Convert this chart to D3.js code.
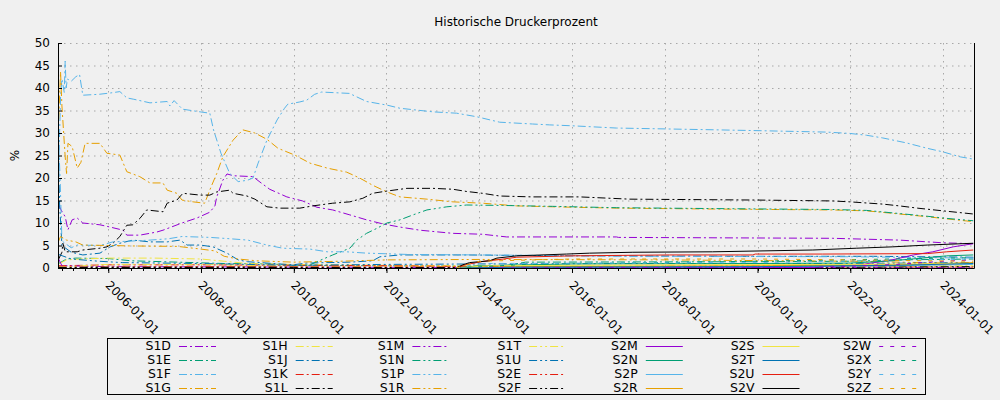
<!DOCTYPE html>
<html>
<head>
<meta charset="utf-8">
<script src="https://cdn.jsdelivr.net/npm/d3@7"></script>
<style>
    body { margin: 0; background: #f0f0f0; }
    svg { display: block; font-family: 'DejaVu Sans', sans-serif; }
</style>
</head>
<body>
<div id="chart"></div>
<script>
// values: [decimal year, percent]
const s1d = [[2004.93, 14], [2004.98, 12.9], [2005.07, 11.4], [2005.13, 8.5], [2005.22, 10.7], [2005.33, 11.1], [2005.45, 10], [2005.82, 9.6], [2006.04, 9.1], [2006.32, 8.4], [2006.4, 7.3], [2006.68, 7.3], [2007.05, 8], [2007.18, 8.4], [2007.59, 10], [2007.91, 11.1], [2008.19, 12.4], [2008.3, 13.8], [2008.34, 15.8], [2008.47, 19.5], [2008.56, 20.9], [2008.7, 20.5], [2009.12, 20.3], [2009.27, 19.1], [2009.48, 17.5], [2009.85, 15.8], [2010.19, 14.9], [2010.5, 13.5], [2010.84, 12.9], [2011.21, 11.8], [2011.57, 10.7], [2011.92, 9.8], [2012.29, 9.1], [2012.72, 8.4], [2013.43, 7.7], [2014.07, 7.5], [2014.59, 6.9], [2016.96, 6.9], [2017.0, 6.8], [2021.62, 6.6], [2023.06, 6.2], [2024.0, 5.6], [2024.65, 5.4]];
const s1e = [[2004.93, 1], [2005.1, 2.0], [2005.3, 2.2], [2006.0, 2.1], [2006.5, 1.6], [2007.5, 1.3], [2008.5, 1.0], [2009.5, 0.9], [2010.0, 0.6], [2012.0, 0.5], [2014.5, 0.4], [2015.0, 1.3], [2020.0, 1.4], [2022.0, 1.5], [2023.0, 1.8], [2024.65, 2.0]];
const s1f = [[2004.93, 22], [2004.95, 30], [2004.97, 38], [2005.0, 42], [2005.05, 39], [2005.07, 46], [2005.09, 40], [2005.12, 42], [2005.2, 41.5], [2005.3, 42.5], [2005.38, 43], [2005.45, 38.4], [2005.8, 38.6], [2006.05, 38.9], [2006.25, 39.2], [2006.4, 37.8], [2006.55, 37.5], [2006.9, 36.7], [2007.27, 37], [2007.33, 36], [2007.42, 37.2], [2007.6, 35.3], [2007.98, 34.7], [2008.19, 34.4], [2008.27, 30.7], [2008.43, 25.5], [2008.62, 21], [2008.8, 19.2], [2009.0, 19.5], [2009.12, 20], [2009.23, 23.3], [2009.42, 28.4], [2009.64, 32.9], [2009.8, 35.5], [2009.87, 36.4], [2010.13, 36.9], [2010.28, 37.3], [2010.45, 38.6], [2010.6, 39.1], [2011.2, 38.8], [2011.57, 37], [2012.01, 36.2], [2012.29, 35.5], [2013.0, 34.7], [2013.51, 34.4], [2013.95, 33.6], [2014.44, 32.4], [2015.15, 32.0], [2015.52, 31.8], [2016.01, 31.6], [2016.96, 31.1], [2018.04, 30.9], [2019.12, 30.7], [2020.11, 30.5], [2021.49, 30.2], [2021.99, 29.9], [2022.35, 29.5], [2022.7, 28.9], [2023.21, 27.8], [2023.66, 26.6], [2024.0, 25.8], [2024.37, 24.7], [2024.65, 24.2]];
const s1g = [[2004.93, 33], [2004.97, 43.6], [2005.0, 36], [2005.07, 24.7], [2005.1, 21], [2005.13, 27.7], [2005.22, 27], [2005.33, 22.2], [2005.41, 23.5], [2005.5, 27.7], [2005.82, 27.7], [2005.97, 25.5], [2006.25, 25.1], [2006.4, 21.4], [2006.68, 20.3], [2006.9, 18.9], [2007.18, 18.9], [2007.27, 17.3], [2007.48, 16.6], [2007.59, 15.1], [2007.83, 14.7], [2008.08, 14.4], [2008.22, 18.1], [2008.34, 21], [2008.47, 24.7], [2008.69, 28.4], [2008.9, 30.7], [2009.16, 30], [2009.42, 28.6], [2009.66, 26.6], [2010.02, 25.1], [2010.35, 23.3], [2010.72, 22.2], [2011.14, 21.3], [2011.42, 20], [2011.7, 18.4], [2012.01, 16.9], [2012.29, 15.8], [2012.87, 15.3], [2013.43, 14.7], [2014.07, 14.4], [2014.81, 13.8], [2015.58, 13.6], [2016.96, 13.3], [2019.12, 13.1], [2021.62, 12.9], [2022.35, 12.7], [2023.06, 12.0], [2023.66, 11.4], [2024.0, 11.0], [2024.65, 10.3]];
const s1h = [[2004.95, 1], [2005.1, 1.8], [2005.4, 2.0], [2006.0, 2.2], [2007.0, 2.2], [2008.0, 2.0], [2008.5, 1.5], [2009.0, 1.0], [2010.0, 0.8], [2012.0, 0.6], [2014.0, 0.5], [2018.0, 0.5], [2022.0, 0.5], [2024.65, 0.5]];
const s1j = [[2004.93, 22], [2004.95, 14], [2005.0, 5], [2005.2, 3.5], [2005.45, 2.9], [2005.82, 3.3], [2006.04, 4.7], [2006.25, 5.5], [2006.53, 6.2], [2006.9, 5.8], [2007.27, 5.8], [2007.55, 6.2], [2007.7, 5.1], [2007.98, 5.1], [2008.26, 4.7], [2008.56, 3.3], [2008.8, 1.8], [2009.0, 1.4], [2009.42, 1.1], [2009.98, 0.7], [2010.28, 1.1], [2011.21, 1.3], [2011.7, 1.6], [2011.86, 2.5], [2012.29, 2.9], [2013.73, 2.9], [2016.0, 2.7], [2020.0, 2.6], [2022.5, 2.6], [2024.65, 2.4]];
const s1k = [[2004.93, 0.5], [2006.0, 0.7], [2008.0, 0.7], [2010.0, 0.6], [2012.0, 0.5], [2014.0, 0.3], [2024.65, 0.2]];
const s1l = [[2004.93, 2], [2005.0, 3.5], [2005.02, 5.5], [2005.07, 3.6], [2005.33, 3.6], [2005.45, 4], [2005.82, 4.4], [2005.97, 4.7], [2006.1, 5.5], [2006.25, 7], [2006.4, 9.5], [2006.53, 9.6], [2006.68, 11], [2006.83, 12.9], [2007.18, 12.5], [2007.27, 14.4], [2007.48, 15.1], [2007.61, 16.6], [2007.98, 16.2], [2008.19, 16.2], [2008.34, 16.9], [2008.62, 17.3], [2008.69, 16.6], [2008.99, 16], [2009.16, 15.3], [2009.42, 13.6], [2009.7, 13.3], [2010.13, 13.3], [2010.41, 13.8], [2010.84, 14.4], [2011.21, 14.7], [2011.49, 15.5], [2011.7, 16.6], [2012.01, 17.1], [2012.44, 17.7], [2013.0, 17.7], [2013.43, 17.5], [2013.73, 17], [2014.07, 16.6], [2014.44, 16], [2015.15, 15.8], [2016.17, 15.8], [2017.24, 15.3], [2019.98, 15.1], [2021.62, 14.9], [2021.99, 14.7], [2022.7, 14.2], [2023.06, 13.8], [2023.45, 13.3], [2024.0, 12.7], [2024.65, 12.0]];
const s1m = [[2004.93, 2], [2005.0, 0.5], [2006.0, 0.3], [2010.0, 0.2], [2014.0, 0.1], [2024.65, 0.1]];
const s1n = [[2004.93, 0.2], [2009.9, 0.3], [2010.35, 0.7], [2010.5, 1.4], [2010.84, 2.9], [2011.21, 4.4], [2011.36, 6.2], [2011.57, 7.7], [2011.79, 8.8], [2012.01, 10], [2012.29, 10.7], [2012.57, 11.8], [2012.87, 12.9], [2013.3, 13.6], [2013.73, 14], [2014.5, 13.9], [2015.58, 13.7], [2016.96, 13.4], [2019.12, 13.2], [2021.62, 13.0], [2022.35, 12.8], [2023.06, 12.1], [2023.66, 11.5], [2024.0, 11.1], [2024.65, 10.5]];
const s1p = [[2004.93, 28], [2004.96, 20], [2005.0, 6], [2005.2, 4.5], [2005.33, 5.1], [2005.82, 5], [2006.1, 5.8], [2006.53, 6.0], [2006.9, 6.2], [2007.3, 6.5], [2007.59, 7.0], [2008.2, 6.8], [2008.62, 6.5], [2009.01, 6.2], [2009.42, 5.1], [2009.76, 4.4], [2010.35, 4.2], [2010.72, 3.6], [2011.14, 3.6], [2011.57, 3.3], [2012.5, 3.0], [2014.0, 2.9], [2018.0, 2.6], [2022.0, 2.5], [2024.65, 2.2]];
const s1r = [[2004.93, 6], [2004.97, 7], [2005.1, 6.2], [2005.3, 5.8], [2005.45, 5.1], [2006.0, 5.0], [2006.5, 4.9], [2007.5, 4.8], [2008.0, 4.2], [2008.3, 3.8], [2008.5, 2.6], [2008.8, 2.0], [2009.2, 1.6], [2010.0, 1.3], [2011.0, 1.5], [2012.0, 1.8], [2014.0, 1.9], [2018.0, 1.8], [2022.0, 1.5], [2024.65, 1.0]];
const s1t = [[2004.93, 0.2], [2006.0, 0.8], [2008.0, 0.8], [2010.0, 0.4], [2014.0, 0.3], [2024.65, 0.3]];
const s1u = [[2004.93, 3], [2005.2, 2], [2005.8, 1.5], [2006.3, 1.2], [2008.0, 1.0], [2009.0, 0.8], [2010.0, 0.6], [2012.0, 0.8], [2014.0, 0.9], [2018.0, 1.0], [2022.0, 1.0], [2024.65, 1.2]];
const s2e = [[2004.93, 0.2], [2008.0, 0.3], [2012.0, 0.2], [2016.0, 0.3], [2022.0, 0.5], [2024.65, 1.0]];
const s2f = [[2004.93, 0.1], [2010.0, 0.1], [2020.0, 0.1], [2024.65, 0.3]];
const s2m = [[2013.5, 0], [2021.2, 0.1], [2021.4, 0.3], [2022.2, 0.7], [2022.9, 1.8], [2023.36, 2.9], [2023.78, 3.6], [2024.22, 4.7], [2024.65, 5.4]];
const s2n = [[2013.5, 0], [2014.0, 0.5], [2016.0, 0.9], [2020.0, 1.0], [2022.0, 1.1], [2022.9, 1.6], [2024.08, 2.7], [2024.65, 2.9]];
const s2p = [[2013.5, 0], [2015.0, 0.2], [2020.0, 0.3], [2023.0, 0.5], [2024.65, 0.8]];
const s2r = [[2013.5, 0], [2015.0, 0.3], [2020.0, 0.5], [2023.0, 0.7], [2024.65, 1.2]];
const s2s = [[2013.5, 0], [2014.2, 0.5], [2018.0, 0.7], [2022.0, 0.8], [2024.65, 1.0]];
const s2t = [[2013.5, 0], [2015.0, 0.2], [2020.0, 0.3], [2023.0, 0.6], [2024.65, 1.0]];
const s2u = [[2013.55, 0], [2013.65, 0.6], [2013.79, 0.9], [2014.1, 1.5], [2014.38, 1.8], [2014.81, 2.4], [2016.0, 2.7], [2018.1, 2.9], [2019.9, 2.9], [2019.95, 3.1], [2021.4, 3.1], [2023.66, 3.2], [2024.08, 3.6], [2024.65, 4.0]];
const s2v = [[2013.5, 0], [2013.64, 0.7], [2013.79, 1.2], [2014.22, 1.6], [2014.38, 2.2], [2014.81, 2.7], [2015.88, 3.1], [2016.38, 3.3], [2017.31, 3.5], [2019.03, 3.6], [2021.19, 4.0], [2022.14, 4.4], [2022.91, 4.7], [2023.66, 5.1], [2024.65, 5.5]];
const s2w = [[2013.5, 0], [2021.0, 0.1], [2022.0, 0.4], [2023.0, 0.8], [2024.0, 1.5], [2024.65, 1.8]];
const s2x = [[2013.5, 0], [2015.0, 0.8], [2020.0, 1.5], [2024.65, 2.3]];
const s2y = [[2013.5, 0], [2014.0, 1.0], [2020.0, 1.2], [2024.65, 2.0]];
const s2z = [[2013.5, 0], [2014.0, 1.5], [2016.0, 2.0], [2020.0, 2.0], [2022.0, 1.8], [2024.65, 1.5]];

const seriesNames = ['S1D', 'S1E', 'S1F', 'S1G', 'S1H', 'S1J', 'S1K', 'S1L',
    'S1M', 'S1N', 'S1P', 'S1R', 'S1T', 'S1U', 'S2E', 'S2F',
    'S2M', 'S2N', 'S2P', 'S2R', 'S2S', 'S2T', 'S2U', 'S2V',
    'S2W', 'S2X', 'S2Y', 'S2Z'];
const seriesValues = [s1d, s1e, s1f, s1g, s1h, s1j, s1k, s1l,
    s1m, s1n, s1p, s1r, s1t, s1u, s2e, s2f,
    s2m, s2n, s2p, s2r, s2s, s2t, s2u, s2v,
    s2w, s2x, s2y, s2z];
const yTicks = [0, 5, 10, 15, 20, 25, 30, 35, 40, 45, 50];
const xDomain = ['2004-12-01', '2024-09-01'];

// gnuplot default line colours and dash types
const colors = ['#9400d3', '#009e73', '#56b4e9', '#e69f00', '#f0e442', '#0072b2', '#e51e10', '#000000'];
const dashes = ['8,3,2,3', '8,3,2,3,2,3', null, '4,7'];

class LineChart {

    constructor(_config, _names, _values) {
        this.config = {
            parentElement: _config.parentElement,
            containerWidth: _config.containerWidth || 1000,
            containerHeight: _config.containerHeight || 400,
            margin: _config.margin || { top: 43, right: 26, bottom: 132, left: 58 }
        };
        this.names = _names;
        this.values = _values;
        this.initVis();
    }

    initVis() {
        let vis = this;

        vis.width = vis.config.containerWidth - vis.config.margin.left - vis.config.margin.right;
        vis.height = vis.config.containerHeight - vis.config.margin.top - vis.config.margin.bottom;

        vis.svg = d3.select(vis.config.parentElement)
            .append('svg')
            .attr('width', vis.config.containerWidth)
            .attr('height', vis.config.containerHeight);

        vis.chart = vis.svg.append('g')
            .attr('transform', `translate(${vis.config.margin.left},${vis.config.margin.top})`);

        vis.xScale = d3.scaleUtc()
            .domain(xDomain.map(d => new Date(d)))
            .range([0, vis.width]);

        vis.yScale = d3.scaleLinear()
            .domain([0, 50])
            .range([vis.height, 0]);

        vis.svg.append('text')
            .attr('x', vis.config.margin.left + vis.width / 2)
            .attr('y', 26)
            .attr('text-anchor', 'middle')
            .style('font-size', '12px')
            .text('Historische Druckerprozent');

        vis.svg.append('text')
            .attr('transform', `translate(19,${vis.config.margin.top + vis.height / 2}) rotate(-90)`)
            .attr('text-anchor', 'middle')
            .style('font-size', '12px')
            .text('%');
    }

    toDate(t) {
        let y = Math.floor(t);
        let start = Date.UTC(y, 0, 1);
        let end = Date.UTC(y + 1, 0, 1);
        return new Date(start + (t - y) * (end - start));
    }

    renderVis() {
        let vis = this;

        // grid
        const majorX = d3.utcYear.every(2).range(...vis.xScale.domain());
        vis.chart.append('g').selectAll('line.gy')
            .data(yTicks.slice(1))
            .join('line')
            .attr('x1', 0).attr('x2', vis.width)
            .attr('y1', d => vis.yScale(d) + 0.5).attr('y2', d => vis.yScale(d) + 0.5)
            .attr('stroke', '#a8a8a8')
            .attr('stroke-dasharray', '1.5,4.5');
        vis.chart.append('g').selectAll('line.gx')
            .data(majorX)
            .join('line')
            .attr('x1', d => Math.round(vis.xScale(d)) + 0.5).attr('x2', d => Math.round(vis.xScale(d)) + 0.5)
            .attr('y1', 0).attr('y2', vis.height)
            .attr('stroke', '#a8a8a8')
            .attr('stroke-dasharray', '1.5,4.5');

        // series
        const line = d3.line()
            .x(d => vis.xScale(vis.toDate(d[0])))
            .y(d => vis.yScale(d[1]));

        vis.svg.append('clipPath').attr('id', 'clip')
            .append('rect').attr('width', vis.width).attr('height', vis.height + 1);

        vis.chart.append('g')
            .attr('clip-path', 'url(#clip)')
            .selectAll('path')
            .data(vis.values)
            .join('path')
            .attr('d', d => line(d))
            .attr('fill', 'none')
            .attr('stroke', (d, i) => colors[i % 8])
            .attr('stroke-width', 1)
            .attr('stroke-dasharray', (d, i) => dashes[Math.floor(i / 8)]);

        // axes
        const xAxis = d3.axisBottom(vis.xScale)
            .tickValues(majorX)
            .tickFormat(d3.utcFormat('%Y-%m-%d'))
            .tickSize(5);
        const xAxisG = vis.chart.append('g')
            .attr('transform', `translate(0,${vis.height})`)
            .call(xAxis)
            .attr('font-family', null)
            .attr('font-size', 12);
        xAxisG.select('.domain').remove();
        xAxisG.selectAll('text')
            .attr('fill', '#000')
            .attr('text-anchor', 'start')
            .attr('x', 0).attr('y', 0).attr('dy', 0)
            .attr('transform', 'translate(-4,18) rotate(45)');

        vis.chart.append('g')
            .selectAll('line')
            .data(d3.utcMonth.every(3).range(...vis.xScale.domain()))
            .join('line')
            .attr('x1', d => Math.round(vis.xScale(d)) + 0.5).attr('x2', d => Math.round(vis.xScale(d)) + 0.5)
            .attr('y1', vis.height).attr('y2', vis.height + 3)
            .attr('stroke', '#000');

        const yAxis = d3.axisLeft(vis.yScale)
            .tickValues(yTicks)
            .tickSize(-4)
            .tickPadding(8);
        const yAxisG = vis.chart.append('g')
            .call(yAxis)
            .attr('font-family', null)
            .attr('font-size', 12);
        yAxisG.select('.domain').remove();
        yAxisG.selectAll('text').attr('fill', '#000');

        // border: left, bottom, right
        vis.chart.append('path')
            .attr('d', `M0.5,0V${vis.height + 0.5}H${vis.width + 0.5}V0`)
            .attr('fill', 'none')
            .attr('stroke', '#000');

        // legend
        const legend = vis.svg.append('g');
        legend.append('rect')
            .attr('x', 107.5).attr('y', 338.5)
            .attr('width', 818).attr('height', 56)
            .attr('fill', 'none').attr('stroke', '#000');

        const items = legend.selectAll('g.item')
            .data(vis.names)
            .join('g')
            .attr('transform', (d, i) => `translate(${171 + Math.floor(i / 4) * 116.7},${346 + (i % 4) * 14})`);
        items.append('text')
            .attr('text-anchor', 'end')
            .attr('dy', '0.35em')
            .style('font-size', '12.5px')
            .text(d => d);
        items.append('line')
            .attr('x1', 8).attr('x2', 45)
            .attr('y1', 0.5).attr('y2', 0.5)
            .attr('stroke', (d, i) => colors[i % 8])
            .attr('stroke-dasharray', (d, i) => dashes[Math.floor(i / 8)]);
    }
}

const chart = new LineChart({ parentElement: '#chart' }, seriesNames, seriesValues);
chart.renderVis();
</script>
</body>
</html>
